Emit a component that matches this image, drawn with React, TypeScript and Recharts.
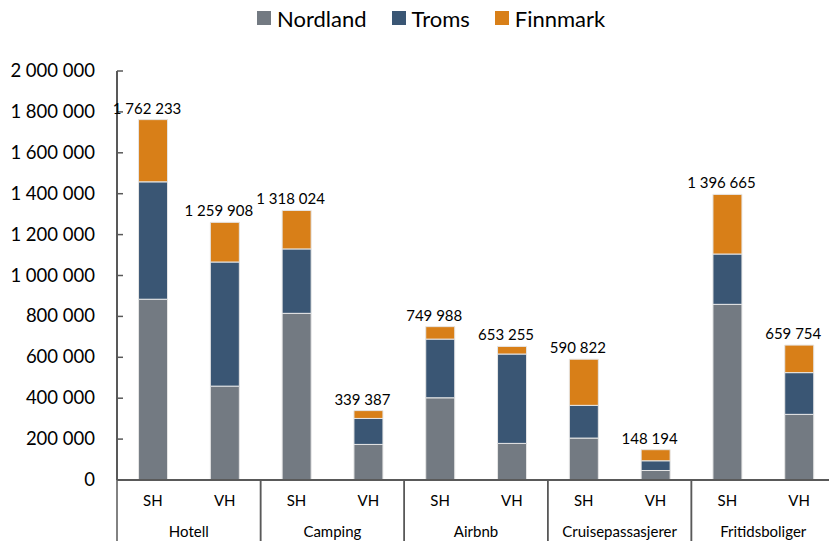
import { BarChart, Bar, XAxis, YAxis, Legend, LabelList } from "recharts";

const categories = ["Hotell", "Camping", "Airbnb", "Cruisepassasjerer", "Fritidsboliger"];
const periods = ["SH", "VH", "SH", "VH", "SH", "VH", "SH", "VH", "SH", "VH"];
const nordland = [884000, 459000, 815000, 174000, 402000, 179000, 205000, 46500, 859000, 321000];
const troms = [574000, 607000, 315000, 127000, 287000, 437000, 160000, 47500, 246000, 204000];
const finnmark = [304233, 193908, 188024, 38387, 60988, 37255, 225822, 54194, 291665, 134754];
const totals = [1762233, 1259908, 1318024, 339387, 749988, 653255, 590822, 148194, 1396665, 659754];
const yTicks = [0, 200000, 400000, 600000, 800000, 1000000, 1200000, 1400000, 1600000, 1800000, 2000000];

const data = periods.map((p, i) => ({
  period: p,
  category: categories[Math.floor(i / 2)],
  Nordland: nordland[i],
  Troms: troms[i],
  Finnmark: finnmark[i],
  total: totals[i],
}));

const colors = { Nordland: "#737a82", Troms: "#3a5674", Finnmark: "#d87f18" };
const axisColor = "#595959";
const font = "Lato, 'Liberation Sans', sans-serif";

const CHART_W = 840;
const CHART_H = 541;
const LEFT = 117;
const RIGHT = 5;
const band = (CHART_W - LEFT - RIGHT) / periods.length;

const fmt = (v: number) => String(v).replace(/\B(?=(\d{3})+(?!\d))/g, " ");

const YTick = (props: any) => {
  const { x, y, payload } = props;
  return (
    <g>
      <line x1={LEFT} x2={LEFT + 6} y1={y} y2={y} stroke={axisColor} strokeWidth={1.5} />
      <text x={x} y={y} dy={6} textAnchor="end" fontFamily={font} fontSize={18.5} fill="#000">
        {fmt(payload.value)}
      </text>
    </g>
  );
};

const XTick = (props: any) => {
  const { x, y, payload, index } = props;
  const i = index ?? payload.index;
  const isFirst = i % 2 === 0;
  return (
    <g>
      <text x={x} y={y + 26} textAnchor="middle" fontFamily={font} fontSize={15} fill="#000">
        {payload.value}
      </text>
      {isFirst && (
        <>
          <line x1={x - band / 2} x2={x - band / 2} y1={y} y2={CHART_H} stroke={axisColor} strokeWidth={1.5} />
          <text x={x + band / 2} y={y + 57} textAnchor="middle" fontFamily={font} fontSize={15} fill="#000">
            {categories[Math.floor(i / 2)]}
          </text>
        </>
      )}
      {!isFirst && (
        <line x1={x + band / 2} x2={x + band / 2} y1={y} y2={CHART_H} stroke={axisColor} strokeWidth={1.5} />
      )}
    </g>
  );
};

const TotalLabel = (props: any) => {
  const { x, y, width, value } = props;
  return (
    <text x={x + width / 2 - 6} y={y - 6} textAnchor="middle" fontFamily={font} fontSize={15} fill="#000">
      {fmt(value)}
    </text>
  );
};

const LegendContent = () => (
  <div
    style={{
      height: 36,
      display: "flex",
      justifyContent: "flex-start",
      alignItems: "center",
      fontFamily: font,
      fontSize: 22,
      color: "#000",
      paddingLeft: 257,
    }}
  >
    {(["Nordland", "Troms", "Finnmark"] as const).map((k) => (
      <span key={k} style={{ display: "flex", alignItems: "center", marginRight: 25 }}>
        <span style={{ width: 14, height: 14, background: colors[k], marginRight: 6 }} />
        {k}
      </span>
    ))}
  </div>
);

export default function App() {
  return (
    <div style={{ position: "fixed", left: 0, top: 0, width: 829, height: 541, overflow: "hidden", background: "#fff" }}>
      <BarChart
        width={CHART_W}
        height={CHART_H}
        data={data}
        margin={{ top: 35, right: RIGHT, left: 0, bottom: 0 }}
        barCategoryGap="30%"
      >
        <Legend verticalAlign="top" align="left" content={<LegendContent />} wrapperStyle={{ top: 0, left: 0, width: 829 }} />
        <XAxis
          dataKey="period"
          height={61}
          tickLine={false}
          tickSize={0}
          tickMargin={0}
          interval={0}
          axisLine={{ stroke: axisColor, strokeWidth: 2 }}
          tick={<XTick />}
        />
        <YAxis
          width={LEFT}
          domain={[0, 2000000]}
          ticks={yTicks}
          interval={0}
          tickLine={false}
          tickSize={0}
          tickMargin={22}
          axisLine={{ stroke: axisColor, strokeWidth: 2 }}
          tick={<YTick />}
        />
        <Bar dataKey="Nordland" stackId="a" fill={colors.Nordland} stroke="#e6e6e6" strokeWidth={1} isAnimationActive={false} />
        <Bar dataKey="Troms" stackId="a" fill={colors.Troms} stroke="#e6e6e6" strokeWidth={1} isAnimationActive={false} />
        <Bar dataKey="Finnmark" stackId="a" fill={colors.Finnmark} stroke="#e6e6e6" strokeWidth={1} isAnimationActive={false}>
          <LabelList dataKey="total" content={<TotalLabel />} />
        </Bar>
      </BarChart>
    </div>
  );
}
